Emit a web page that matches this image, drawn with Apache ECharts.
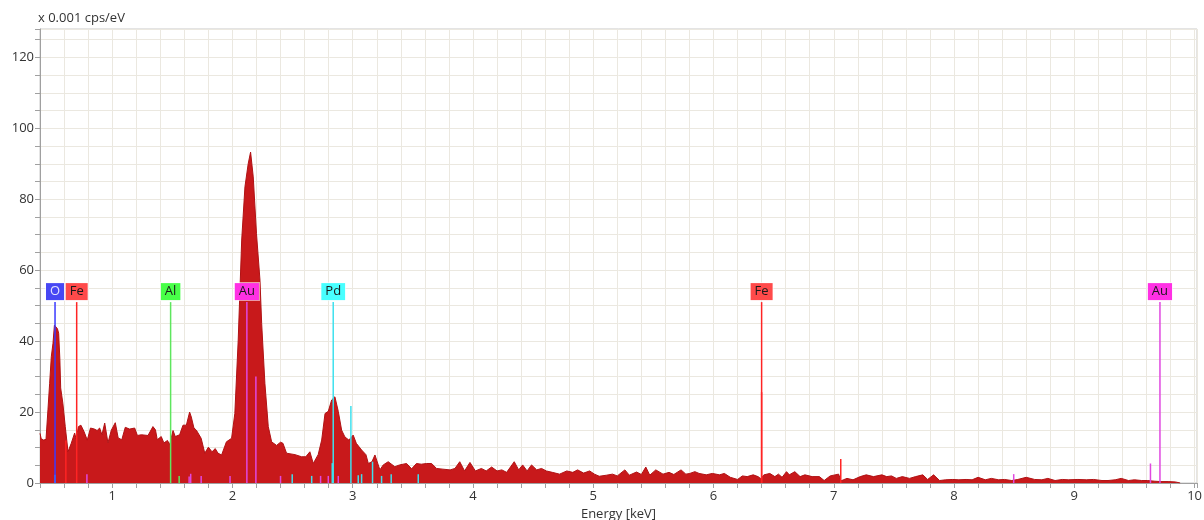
<!DOCTYPE html>
<html>
<head>
<meta charset="utf-8">
<script src="https://cdn.jsdelivr.net/npm/echarts@6/dist/echarts.min.js"></script>
<style>
  html, body { margin: 0; padding: 0; background: #fff; }
  #chart { width: 1204px; height: 520px; }
</style>
</head>
<body>
<div id="chart"></div>
<script>
// spectrum, keV / x 0.001 cps/eV
var energy = [
  0.40, 0.41, 0.43, 0.45, 0.466, 0.48, 0.494, 0.508, 0.52, 0.535, 0.545, 0.555, 0.565, 0.572, 0.59,
  0.61, 0.633, 0.66, 0.688, 0.70, 0.72, 0.74, 0.766, 0.793, 0.82, 0.853, 0.875, 0.896, 0.915, 0.938,
  0.965, 0.993, 1.026, 1.05, 1.08, 1.109, 1.145, 1.187, 1.21, 1.243, 1.298, 1.339, 1.36, 1.375, 1.408,
  1.43, 1.46, 1.478, 1.506, 1.525, 1.561, 1.589, 1.617, 1.644, 1.658, 1.68, 1.70, 1.74, 1.77, 1.80,
  1.83, 1.857, 1.88, 1.91, 1.95, 1.993, 2.02, 2.048, 2.077, 2.104, 2.131, 2.151, 2.173, 2.20, 2.229,
  2.243, 2.27, 2.298, 2.326, 2.367, 2.40, 2.42, 2.45, 2.52, 2.575, 2.61, 2.644, 2.672, 2.713, 2.742,
  2.77, 2.797, 2.825, 2.852, 2.88, 2.908, 2.935, 2.968, 3.004, 3.03, 3.074, 3.11, 3.13, 3.16, 3.185,
  3.226, 3.254, 3.295, 3.35, 3.39, 3.448, 3.49, 3.53, 3.57, 3.615, 3.656, 3.697, 3.75, 3.81, 3.85,
  3.89, 3.93, 3.975, 4.02, 4.07, 4.11, 4.155, 4.20, 4.24, 4.28, 4.343, 4.38, 4.413, 4.45, 4.487,
  4.53, 4.57, 4.61, 4.66, 4.72, 4.78, 4.83, 4.87, 4.92, 4.97, 5.01, 5.05, 5.11, 5.16, 5.20,
  5.263, 5.30, 5.36, 5.40, 5.437, 5.47, 5.52, 5.58, 5.63, 5.67, 5.73, 5.77, 5.803, 5.845, 5.88,
  5.94, 5.99, 6.05, 6.09, 6.14, 6.20, 6.24, 6.28, 6.33, 6.37, 6.39, 6.42, 6.468, 6.51, 6.54,
  6.57, 6.607, 6.63, 6.676, 6.72, 6.76, 6.82, 6.88, 6.92, 6.97, 7.04, 7.06, 7.08, 7.11, 7.16,
  7.22, 7.27, 7.33, 7.40, 7.44, 7.48, 7.52, 7.57, 7.63, 7.68, 7.74, 7.78, 7.83, 7.88, 7.93,
  7.99, 8.04, 8.10, 8.15, 8.20, 8.26, 8.31, 8.37, 8.42, 8.48, 8.53, 8.60, 8.67, 8.73, 8.78,
  8.84, 8.90, 8.95, 9.03, 9.10, 9.16, 9.23, 9.28, 9.34, 9.39, 9.45, 9.50, 9.56, 9.61, 9.67,
  9.72, 9.78, 9.84, 9.88
];
var counts = [
  14.0, 12.5, 12.1, 12.3, 20.6, 28.0, 35.6, 39.4, 44.5, 44.5, 43.5, 42.2, 35.0, 26.8, 22.5,
  15.9, 8.8, 11.2, 14.1, 12.5, 15.9, 16.3, 14.5, 12.1, 15.5, 15.2, 14.8, 15.5, 13.6, 16.9,
  11.3, 14.9, 17.0, 12.7, 12.2, 15.7, 15.2, 15.5, 13.4, 13.6, 13.4, 15.9, 15.0, 12.2, 13.1,
  11.3, 12.0, 10.8, 14.8, 13.1, 13.6, 16.3, 16.3, 20.0, 18.6, 15.5, 14.9, 12.6, 8.4, 10.1,
  8.8, 9.7, 8.4, 7.9, 11.6, 12.6, 19.6, 40.3, 68.5, 83.5, 90.0, 93.3, 86.3, 70.3, 57.2,
  45.0, 28.1, 15.9, 11.6, 10.6, 11.5, 11.2, 8.4, 8.0, 7.4, 7.4, 8.8, 5.5, 8.0, 12.1,
  19.6, 20.2, 23.4, 24.3, 20.2, 14.9, 13.0, 12.1, 13.5, 11.2, 9.3, 8.0, 5.5, 6.0, 7.9,
  3.7, 5.1, 6.0, 4.6, 5.1, 5.5, 4.0, 5.5, 5.3, 5.5, 5.5, 4.1, 3.9, 3.7, 4.1,
  6.0, 3.4, 5.8, 3.4, 4.1, 3.4, 4.5, 3.4, 3.7, 3.0, 6.0, 3.7, 5.1, 3.4, 5.1,
  3.7, 4.1, 3.4, 3.0, 2.5, 3.4, 3.0, 3.7, 2.8, 3.4, 2.5, 1.9, 2.2, 2.5, 2.0,
  3.7, 2.2, 3.1, 2.4, 4.5, 2.2, 3.7, 2.5, 3.0, 2.4, 3.7, 2.5, 2.7, 3.2, 2.7,
  2.3, 2.7, 2.3, 2.7, 1.6, 1.0, 2.0, 1.8, 2.3, 1.8, 1.3, 2.3, 2.7, 1.8, 2.5,
  1.6, 3.2, 2.3, 3.2, 1.8, 2.3, 1.8, 1.8, 0.7, 2.0, 2.5, 0.6, 0.9, 1.3, 0.9,
  1.8, 2.3, 1.8, 2.3, 1.8, 2.0, 1.3, 1.8, 1.3, 1.8, 2.3, 1.0, 2.3, 0.7, 0.9,
  1.0, 0.9, 1.0, 0.9, 1.6, 0.9, 1.3, 0.9, 1.0, 0.7, 1.0, 1.6, 1.0, 0.9, 1.3,
  0.7, 1.0, 0.9, 1.0, 0.9, 1.0, 0.7, 0.7, 0.9, 1.3, 0.7, 0.9, 0.7, 0.7, 0.5,
  0.4, 0.4, 0.3, 0
];

// labelled element lines
var markElement = ["O", "Fe", "Al", "Au", "Pd", "Fe", "Au"];
var markEnergy = [0.525, 0.705, 1.486, 2.12, 2.838, 6.40, 9.712];

// small element lines
var stickElement = ["Pd", "Fe", "Au", "Al", "Au", "Au", "Au", "Au", "Au", "Au", "Pd", "Pd", "Au", "Au",
  "Pd", "Au", "Pd", "Pd", "Pd", "Pd", "Pd", "Pd", "Pd", "Fe", "Fe", "Au", "Au"];
var stickEnergy = [0.525, 0.615, 0.79, 1.557, 1.64, 1.653, 1.74, 1.98, 2.195, 2.40, 2.497, 2.659, 2.733, 2.797,
  2.83, 2.88, 2.985, 3.046, 3.074, 3.165, 3.24, 3.32, 3.545, 6.40, 7.058, 8.496, 9.633];
var stickHeight = [2.3, 12, 2.5, 2.0, 1.8, 2.6, 2.0, 2.0, 30, 2.0, 2.5, 2.0, 2.0, 2.0,
  5.6, 2.0, 21.7, 2.2, 2.5, 6.0, 2.0, 2.5, 2.5, 25.6, 6.8, 2.5, 5.5];

var lineColor = { O: "#3a3aff", Fe: "#ff2424", Al: "#5ee65e", Au: "#e048e0", Pd: "#3ee0ee" };
var boxColor = { O: "#4848f4", Fe: "#ff4a4a", Al: "#48ff48", Au: "#ff30e4", Pd: "#48ffff" };
var markTop = 51;

(function () {
    var myChart = echarts.init(document.getElementById("chart"));

    var spectrum = energy.map(function (e, i) { return [e, counts[i]]; });
    var sticks = stickEnergy.map(function (e, i) { return [e, stickHeight[i]]; });
    var marks = markEnergy.map(function (e) { return [e, markTop]; });

    var gridColor = "#ebe8e0";
    var font = "'Open Sans', 'Noto Sans', sans-serif";

    function stickItem(elements, width) {
        return function (params, api) {
            var p0 = api.coord([api.value(0), 0]);
            var p1 = api.coord([api.value(0), api.value(1)]);
            return {
                type: "line",
                shape: { x1: p0[0], y1: p0[1], x2: p1[0], y2: p1[1] },
                style: { stroke: lineColor[elements[params.dataIndex]], lineWidth: width }
            };
        };
    }

    option = {
        backgroundColor: "#fff",
        animation: false,
        grid: {
            left: 40,
            top: 29,
            right: 7,
            bottom: 37,
            outerBoundsMode: "none",
            containLabel: false,
            show: true,
            borderColor: "#c8c8c8",
            borderWidth: 1
        },
        xAxis: {
            type: "value",
            min: 0.4,
            max: 10.02,
            interval: 0.2,
            name: "Energy [keV]",
            nameLocation: "middle",
            nameGap: 24,
            nameTextStyle: { fontSize: 13, color: "#333", fontFamily: font },
            axisLine: { show: true, lineStyle: { color: "#a0a0a0" } },
            axisTick: { show: true, length: 5, lineStyle: { color: "#a0a0a0" } },
            axisLabel: {
                margin: 7,
                fontSize: 13,
                color: "#333",
                fontFamily: font,
                showMaxLabel: true,
                formatter: function (v) {
                    return Math.abs(v - Math.round(v)) < 1e-6 ? String(Math.round(v)) : "";
                }
            },
            splitLine: { show: true, lineStyle: { color: gridColor, width: 1 } }
        },
        yAxis: {
            type: "value",
            min: 0,
            max: 128,
            interval: 5,
            name: "x 0.001 cps/eV",
            nameLocation: "end",
            nameGap: 4,
            nameTextStyle: { fontSize: 13, color: "#333", fontFamily: font, align: "left", padding: [0, 0, 0, -2] },
            axisLine: { show: true, lineStyle: { color: "#a0a0a0" } },
            axisTick: { show: true, length: 5, lineStyle: { color: "#a0a0a0" } },
            axisLabel: {
                margin: 6,
                fontSize: 13,
                color: "#333",
                fontFamily: font,
                formatter: function (v) {
                    return v % 20 === 0 ? String(v) : "";
                }
            },
            splitLine: { show: true, lineStyle: { color: gridColor, width: 1 } }
        },
        series: [
            {
                name: "spectrum",
                type: "line",
                data: spectrum,
                symbol: "none",
                smooth: false,
                z: 2,
                lineStyle: { color: "#b01214", width: 1 },
                areaStyle: { color: "#c8191b", opacity: 1 }
            },
            {
                name: "sticks",
                type: "custom",
                data: sticks,
                z: 3,
                renderItem: stickItem(stickElement, 1.5)
            },
            {
                name: "marks",
                type: "custom",
                data: marks,
                z: 4,
                renderItem: function (params, api) {
                    var el = markElement[params.dataIndex];
                    var p0 = api.coord([api.value(0), 0]);
                    var p1 = api.coord([api.value(0), api.value(1)]);
                    return {
                        type: "group",
                        children: [
                            {
                                type: "line",
                                shape: { x1: p0[0], y1: p0[1], x2: p1[0], y2: p1[1] },
                                style: { stroke: lineColor[el], lineWidth: 1.5 }
                            },
                            {
                                type: "text",
                                x: p1[0],
                                y: p1[1] - 2,
                                style: {
                                    text: el,
                                    align: "center",
                                    verticalAlign: "bottom",
                                    fontSize: 13,
                                    fontFamily: font,
                                    fill: el === "O" ? "#e4e4ff" : "#1a1a1a",
                                    backgroundColor: boxColor[el],
                                    borderColor: "rgba(255,255,255,0.6)",
                                    borderWidth: 1,
                                    padding: [2, 4, 2, 4]
                                }
                            }
                        ]
                    };
                }
            }
        ]
    };
    myChart.setOption(option);
    window.addEventListener("resize", function () {
        myChart.resize();
    });
})();
</script>
</body>
</html>
